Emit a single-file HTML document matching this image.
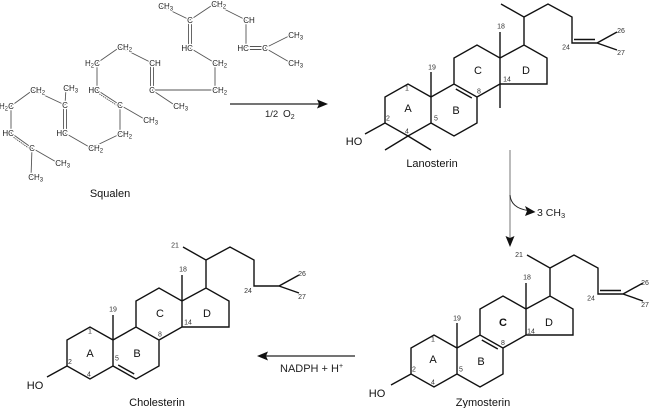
<!DOCTYPE html>
<html>
<head>
<meta charset="utf-8">
<style>
html,body{margin:0;padding:0;background:#fff;}
svg{display:block;}
.sq text{font-size:8px;fill:#222;stroke:#fff;stroke-width:2.6px;paint-order:stroke;stroke-linejoin:round;}
.num{font-size:7px;fill:#333;text-anchor:middle;}
.let{font-size:11px;fill:#111;text-anchor:middle;}
.name{font-size:11px;fill:#111;text-anchor:middle;}
</style>
</head>
<body>
<svg width="650" height="408" viewBox="0 0 650 408" font-family="'Liberation Sans', Arial, sans-serif">
<rect width="650" height="408" fill="#fff"/>

<!-- ===== Squalen ===== -->
<g stroke="#555" stroke-width="0.9" fill="none">
<line x1="31" y1="177" x2="32" y2="148"/>
<line x1="32" y1="148" x2="58" y2="163"/>
<line x1="32" y1="148" x2="11" y2="133"/>
<line x1="30.8" y1="149.6" x2="9.8" y2="134.6" stroke-dasharray="1.4,0.8"/>
<line x1="11" y1="133" x2="11" y2="106"/>
<line x1="11" y1="106" x2="33" y2="90"/>
<line x1="33" y1="90" x2="65" y2="105"/>
<line x1="65" y1="105" x2="66" y2="88"/>
<line x1="63.5" y1="105" x2="63.5" y2="133"/>
<line x1="66.5" y1="105" x2="66.5" y2="133"/>
<line x1="65" y1="133" x2="91" y2="148"/>
<line x1="91" y1="148" x2="120" y2="134"/>
<line x1="120" y1="134" x2="120" y2="105"/>
<line x1="120" y1="105" x2="146" y2="120"/>
<line x1="120" y1="105" x2="97" y2="90"/>
<line x1="118.9" y1="106.7" x2="95.9" y2="91.7" stroke-dasharray="1.4,0.8"/>
<line x1="97" y1="90" x2="97" y2="63"/>
<line x1="97" y1="63" x2="120" y2="47"/>
<line x1="120" y1="47" x2="152" y2="63"/>
<line x1="150.5" y1="63" x2="150.5" y2="90"/>
<line x1="153.5" y1="63" x2="153.5" y2="90"/>
<line x1="152" y1="90" x2="176" y2="106"/>
<line x1="152" y1="90" x2="215" y2="90"/>
<line x1="215" y1="90" x2="215" y2="63"/>
<line x1="215" y1="63" x2="190" y2="48"/>
<line x1="188.5" y1="48" x2="188.5" y2="20"/>
<line x1="191.5" y1="48" x2="191.5" y2="20"/>
<line x1="190" y1="20" x2="161" y2="6"/>
<line x1="190" y1="20" x2="214" y2="4"/>
<line x1="214" y1="4" x2="246" y2="20"/>
<line x1="246" y1="20" x2="246" y2="48"/>
<line x1="246" y1="46.5" x2="265" y2="46.5"/>
<line x1="246" y1="49.5" x2="265" y2="49.5"/>
<line x1="265" y1="48" x2="291" y2="35"/>
<line x1="265" y1="48" x2="291" y2="63"/>
</g>
<g class="sq">
<text x="28.2" y="180">CH<tspan font-size="6" dy="1.5">3</tspan></text>
<text x="32" y="151" text-anchor="middle">C</text>
<text x="55.2" y="166">CH<tspan font-size="6" dy="1.5">3</tspan></text>
<text x="13.9" y="136" text-anchor="end">HC</text>
<text x="13.9" y="109" text-anchor="end">H<tspan font-size="6" dy="1.5">2</tspan><tspan dy="-1.5">C</tspan></text>
<text x="30.2" y="93">CH<tspan font-size="6" dy="1.5">2</tspan></text>
<text x="65" y="108" text-anchor="middle">C</text>
<text x="63.2" y="91">CH<tspan font-size="6" dy="1.5">3</tspan></text>
<text x="67.9" y="136" text-anchor="end">HC</text>
<text x="88.2" y="151">CH<tspan font-size="6" dy="1.5">2</tspan></text>
<text x="117.2" y="137">CH<tspan font-size="6" dy="1.5">2</tspan></text>
<text x="120" y="108" text-anchor="middle">C</text>
<text x="143.2" y="123">CH<tspan font-size="6" dy="1.5">3</tspan></text>
<text x="99.9" y="93" text-anchor="end">HC</text>
<text x="99.9" y="66" text-anchor="end">H<tspan font-size="6" dy="1.5">2</tspan><tspan dy="-1.5">C</tspan></text>
<text x="117.2" y="50">CH<tspan font-size="6" dy="1.5">2</tspan></text>
<text x="149.2" y="66">CH</text>
<text x="152" y="93" text-anchor="middle">C</text>
<text x="173.2" y="109">CH<tspan font-size="6" dy="1.5">3</tspan></text>
<text x="212.2" y="93">CH<tspan font-size="6" dy="1.5">2</tspan></text>
<text x="212.2" y="66">CH<tspan font-size="6" dy="1.5">2</tspan></text>
<text x="192.9" y="51" text-anchor="end">HC</text>
<text x="190" y="23" text-anchor="middle">C</text>
<text x="158.2" y="9">CH<tspan font-size="6" dy="1.5">3</tspan></text>
<text x="211.2" y="7">CH<tspan font-size="6" dy="1.5">2</tspan></text>
<text x="243.2" y="23">CH</text>
<text x="248.9" y="51" text-anchor="end">HC</text>
<text x="265" y="51" text-anchor="middle">C</text>
<text x="288.2" y="38">CH<tspan font-size="6" dy="1.5">3</tspan></text>
<text x="288.2" y="66">CH<tspan font-size="6" dy="1.5">3</tspan></text>
</g>
<text class="name" x="110" y="197">Squalen</text>

<!-- ===== Arrow 1 ===== -->
<line x1="230" y1="104" x2="320" y2="104" stroke="#222" stroke-width="1.3"/>
<polygon points="317,99.5 328,104 317,108.5 319,104" fill="#111"/>
<text x="265" y="117" font-size="9.5" fill="#222">1/2</text>
<text x="283" y="117" font-size="10" fill="#222">O<tspan font-size="7" dy="2">2</tspan></text>

<!-- ===== Lanosterin ===== -->
<g transform="translate(431,97)">
<g stroke="#111" stroke-width="1.4" fill="none">
<path d="M0,0 L-23,-13 L-46,0 L-46,26 L-23,39 L0,26 Z M0,26 L23,39 L46,26 L46,0 L23,-13 L0,0 M23,-13 L23,-39 L46,-52 L69,-39 L69,-13 L46,0 M69,-39 L93,-52 L116,-39 L116,-13 L69,-13 M0,0 L0,-25 M69,-39 L69,-65 M93,-52 L93,-80 L70,-93 M93,-80 L117,-93 L141,-80 L141,-54 L166,-54 L186,-65 M166,-54 L186,-47 M-46,26 L-66,37"/>
<path d="M69,-13 L69,11 M-23,39 L-46,53 M-23,39 L0,53 M24.8,-8 L40.8,1 M143,-57.5 L164,-57.5"/>
</g>
<text class="num" x="1" y="-27.5">19</text>
<text class="num" x="70" y="-68.5">18</text>
<text class="num" x="-24" y="-6.5">1</text>
<text class="num" x="-43" y="23.5">2</text>
<text class="num" x="-24" y="36.5">4</text>
<text class="num" x="5" y="23.5">5</text>
<text class="num" x="48" y="-3.5">8</text>
<text class="num" x="76" y="-15.5">14</text>
<text class="num" x="135" y="-47.5">24</text>
<text class="num" x="190" y="-64">26</text>
<text class="num" x="190" y="-42">27</text>
<text class="let" x="-23" y="15">A</text>
<text class="let" x="25" y="17">B</text>
<text class="let" x="47" y="-23">C</text>
<text class="let" x="95" y="-23">D</text>
<text class="let" x="-77" y="48">HO</text>
</g>
<text class="name" x="432" y="167">Lanosterin</text>

<!-- ===== Vertical arrow ===== -->
<line x1="510" y1="150" x2="510" y2="240" stroke="#777" stroke-width="1"/>
<polygon points="505.5,236 510,247 514.5,236 510,238" fill="#111"/>
<path d="M510,195 Q511,208 528,210.5" stroke="#222" stroke-width="1" fill="none"/>
<polygon points="525,206 535.5,212 525,216 527,211" fill="#111"/>
<text x="537" y="216" font-size="10.5" fill="#222">3 CH<tspan font-size="7.5" dy="2">3</tspan></text>

<!-- ===== Zymosterin ===== -->
<g transform="translate(457,348)">
<g stroke="#111" stroke-width="1.4" fill="none">
<path d="M0,0 L-23,-13 L-46,0 L-46,26 L-23,39 L0,26 Z M0,26 L23,39 L46,26 L46,0 L23,-13 L0,0 M23,-13 L23,-39 L46,-52 L69,-39 L69,-13 L46,0 M69,-39 L93,-52 L116,-39 L116,-13 L69,-13 M0,0 L0,-25 M69,-39 L69,-65 M93,-52 L93,-80 L70,-93 M93,-80 L117,-93 L141,-80 L141,-54 L166,-54 L186,-65 M166,-54 L186,-47 M-46,26 L-66,37"/>
<path d="M24.8,-8 L40.8,1 M143,-57.5 L164,-57.5"/>
</g>
<text class="num" x="0" y="-27.5">19</text>
<text class="num" x="70" y="-68.5">18</text>
<text class="num" x="62" y="-91">21</text>
<text class="num" x="-24" y="-6.5">1</text>
<text class="num" x="-43" y="23.5">2</text>
<text class="num" x="-24" y="36.5">4</text>
<text class="num" x="4" y="23.5">5</text>
<text class="num" x="46" y="-3">8</text>
<text class="num" x="74" y="-14.5">14</text>
<text class="num" x="134" y="-47.5">24</text>
<text class="num" x="188" y="-63">26</text>
<text class="num" x="188" y="-41">27</text>
<text class="let" x="-24" y="15">A</text>
<text class="let" x="24" y="17">B</text>
<text class="let" x="46" y="-22" font-weight="bold">C</text>
<text class="let" x="92" y="-22">D</text>
<text class="let" x="-80" y="49">HO</text>
</g>
<text class="name" x="483" y="406">Zymosterin</text>

<!-- ===== Arrow 3 ===== -->
<line x1="263" y1="356" x2="355" y2="356" stroke="#222" stroke-width="1.3"/>
<polygon points="268,351.5 257,356 268,360.5 266,356" fill="#111"/>
<text x="280" y="372" font-size="11" fill="#222">NADPH + H<tspan font-size="7" dy="-4">+</tspan></text>

<!-- ===== Cholesterin ===== -->
<g transform="translate(113,340)">
<g stroke="#111" stroke-width="1.4" fill="none">
<path d="M0,0 L-23,-13 L-46,0 L-46,26 L-23,39 L0,26 Z M0,26 L23,39 L46,26 L46,0 L23,-13 L0,0 M23,-13 L23,-39 L46,-52 L69,-39 L69,-13 L46,0 M69,-39 L93,-52 L116,-39 L116,-13 L69,-13 M0,0 L0,-25 M69,-39 L69,-65 M93,-52 L93,-80 L70,-93 M93,-80 L117,-93 L141,-80 L141,-54 L166,-54 L186,-65 M166,-54 L186,-47 M-46,26 L-66,37"/>
<path d="M5.2,25 L21.2,34"/>
</g>
<text class="num" x="0" y="-28.5">19</text>
<text class="num" x="70" y="-68.5">18</text>
<text class="num" x="62" y="-92.5">21</text>
<text class="num" x="-23" y="-6.5">1</text>
<text class="num" x="-43" y="24">2</text>
<text class="num" x="-24" y="36.5">4</text>
<text class="num" x="4" y="20.5">5</text>
<text class="num" x="47" y="-3.5">8</text>
<text class="num" x="75" y="-15.5">14</text>
<text class="num" x="135" y="-47">24</text>
<text class="num" x="189" y="-64">26</text>
<text class="num" x="189" y="-41">27</text>
<text class="let" x="-23" y="17">A</text>
<text class="let" x="24" y="17">B</text>
<text class="let" x="47" y="-23">C</text>
<text class="let" x="94" y="-23">D</text>
<text class="let" x="-78" y="49">HO</text>
</g>
<text class="name" x="157" y="406">Cholesterin</text>
</svg>
</body>
</html>
